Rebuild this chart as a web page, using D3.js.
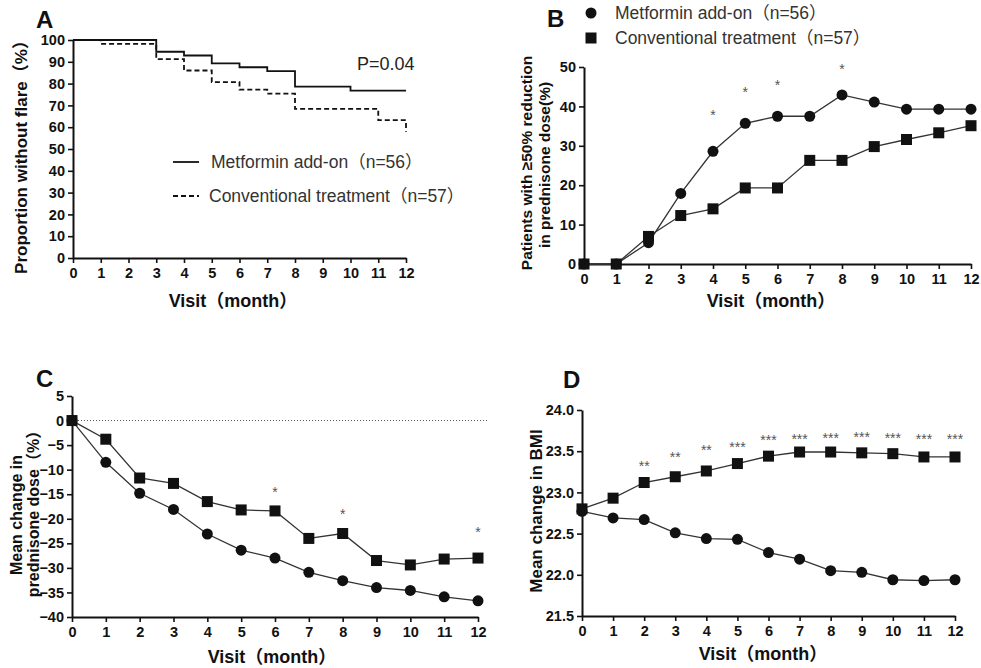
<!DOCTYPE html>
<html>
<head>
<meta charset="utf-8">
<script src="https://cdn.jsdelivr.net/npm/d3@7/dist/d3.min.js"></script>
<style>
body { margin: 0; background: #fff; }
svg text { font-family: "Liberation Sans", Arial, "Noto Sans CJK SC", sans-serif; }
</style>
</head>
<body>
<div id="viz"></div>
<script>
var months = [0, 1, 2, 3, 4, 5, 6, 7, 8, 9, 10, 11, 12];
var seriesNames = ['Metformin add-on（n=56）', 'Conventional treatment（n=57）'];

// A: Kaplan-Meier, proportion without flare (%)
var aMetTime = [0, 3, 4, 5, 6, 7, 8, 10, 12];
var aMetSurv = [100, 94.6, 92.9, 89.3, 87.5, 85.7, 78.6, 76.8, 76.8];
var aConvTime = [0, 1, 3, 4, 5, 6, 7, 8, 11, 12];
var aConvSurv = [100, 98.2, 91.2, 86.0, 80.7, 77.2, 75.4, 68.4, 63.2, 57.9];
var aTicks = [0, 10, 20, 30, 40, 50, 60, 70, 80, 90, 100];

// B: patients with >=50% reduction in prednisone dose (%)
var bMet = [0, 0, 5.4, 17.9, 28.6, 35.7, 37.5, 37.5, 42.9, 41.1, 39.3, 39.3, 39.3];
var bConv = [0, 0, 7.0, 12.3, 14.0, 19.3, 19.3, 26.3, 26.3, 29.8, 31.6, 33.3, 35.1];
var bStarX = [4, 5, 6, 8];
var bStarY = [38.5, 44.4, 46.3, 50.3];
var bStarText = ['*', '*', '*', '*'];
var bTicks = [0, 10, 20, 30, 40, 50];

// C: mean change in prednisone dose (%)
var cMet = [0, -8.5, -14.8, -18.1, -23.1, -26.4, -28.0, -30.9, -32.6, -34.0, -34.6, -35.9, -36.7];
var cConv = [0, -3.8, -11.7, -12.8, -16.5, -18.2, -18.4, -24.0, -23.0, -28.5, -29.4, -28.2, -28.0];
var cStarX = [6, 8, 12];
var cStarY = [-14.0, -18.4, -22.1];
var cStarText = ['*', '*', '*'];
var cTicks = [5, 0, -5, -10, -15, -20, -25, -30, -35, -40];

// D: mean BMI
var dMet = [22.77, 22.69, 22.67, 22.51, 22.44, 22.43, 22.27, 22.19, 22.05, 22.03, 21.94, 21.93, 21.94];
var dConv = [22.80, 22.93, 23.12, 23.19, 23.26, 23.35, 23.44, 23.49, 23.49, 23.48, 23.47, 23.43, 23.43];
var dStarX = [2, 3, 4, 5, 6, 7, 8, 9, 10, 11, 12];
var dStarY = [23.36, 23.46, 23.55, 23.59, 23.67, 23.69, 23.70, 23.71, 23.70, 23.69, 23.69];
var dStarText = ['**', '**', '**', '***', '***', '***', '***', '***', '***', '***', '***'];
var dTicks = [21.5, 22.0, 22.5, 23.0, 23.5, 24.0];

var svg = d3.select('#viz')
    .append('svg')
    .attr('width', 981)
    .attr('height', 668);

function drawAxes(g, xScale, yScale, yTicks, fmt) {
    var x0 = xScale.range()[0];
    var y0 = yScale.range()[0];

    var xAxis = g.append('g')
        .attr('transform', 'translate(0,' + y0 + ')')
        .call(d3.axisBottom(xScale).tickValues(months).tickSize(5).tickSizeOuter(0).tickPadding(5));
    var yAxis = g.append('g')
        .attr('transform', 'translate(' + x0 + ',0)')
        .call(d3.axisLeft(yScale).tickValues(yTicks).tickFormat(fmt).tickSize(5).tickSizeOuter(0).tickPadding(3));

    [xAxis, yAxis].forEach(function (ax) {
        ax.select('.domain').attr('stroke', '#111').attr('stroke-width', 2);
        ax.selectAll('.tick line').attr('stroke', '#111').attr('stroke-width', 1.6);
        ax.selectAll('.tick text')
            .attr('fill', '#111')
            .style('font-size', '14.5px')
            .style('font-weight', 'bold');
    });
}

function label(g, txt, x, y, size, weight, rotate, fill) {
    var t = g.append('text')
        .attr('text-anchor', rotate ? 'middle' : 'start')
        .attr('fill', fill || '#111')
        .style('font-size', size + 'px')
        .style('font-weight', weight)
        .text(txt);
    if (rotate) {
        t.attr('transform', 'translate(' + x + ',' + y + ') rotate(-90)');
    } else {
        t.attr('x', x).attr('y', y);
    }
    return t;
}

function drawSeries(g, xScale, yScale, values, shape) {
    var line = d3.line()
        .x(function (d, i) { return xScale(months[i]); })
        .y(function (d) { return yScale(d); });

    g.append('path')
        .datum(values)
        .attr('d', line)
        .attr('fill', 'none')
        .attr('stroke', '#333')
        .attr('stroke-width', 1.3);

    if (shape == 'circle') {
        g.selectAll(null)
            .data(values)
            .enter()
            .append('circle')
            .attr('cx', function (d, i) { return xScale(months[i]); })
            .attr('cy', function (d) { return yScale(d); })
            .attr('r', 5.5)
            .attr('fill', '#111');
    } else {
        g.selectAll(null)
            .data(values)
            .enter()
            .append('rect')
            .attr('x', function (d, i) { return xScale(months[i]) - 5.5; })
            .attr('y', function (d) { return yScale(d) - 5.5; })
            .attr('width', 11)
            .attr('height', 11)
            .attr('fill', '#111');
    }
}

function drawStars(g, xScale, yScale, xs, ys, txt) {
    g.selectAll(null)
        .data(xs)
        .enter()
        .append('text')
        .attr('x', function (d) { return xScale(d); })
        .attr('y', function (d, i) { return yScale(ys[i]) + 8; })
        .attr('text-anchor', 'middle')
        .attr('fill', '#555')
        .style('font-size', '14px')
        .text(function (d, i) { return txt[i]; });
}

// ---------- Panel A ----------
var gA = svg.append('g');
var xA = d3.scaleLinear().domain([0, 12]).range([73, 406]);
var yA = d3.scaleLinear().domain([0, 100]).range([258, 40]);

var stepLine = d3.line()
    .x(function (d) { return xA(d[0]); })
    .y(function (d) { return yA(d[1]); })
    .curve(d3.curveStepAfter);

gA.append('path')
    .datum(d3.zip(aConvTime, aConvSurv))
    .attr('d', stepLine)
    .attr('fill', 'none')
    .attr('stroke', '#111')
    .attr('stroke-width', 1.8)
    .attr('stroke-dasharray', '5,3');
gA.append('path')
    .datum(d3.zip(aMetTime, aMetSurv))
    .attr('d', stepLine)
    .attr('fill', 'none')
    .attr('stroke', '#111')
    .attr('stroke-width', 1.8);

drawAxes(gA, xA, yA, aTicks, d3.format('d'));

label(gA, 'A', 36, 28, 24, 'bold');
label(gA, 'P=0.04', 357, 70, 18, 'normal', false, '#222');
label(gA, 'Proportion without flare（%）', 27, 153, 17, 'bold', true);
label(gA, 'Visit（month）', 233, 307, 18, 'bold').attr('text-anchor', 'middle');

gA.append('line').attr('x1', 173).attr('x2', 199).attr('y1', 162).attr('y2', 162)
    .attr('stroke', '#111').attr('stroke-width', 1.8);
gA.append('line').attr('x1', 173).attr('x2', 199).attr('y1', 196).attr('y2', 196)
    .attr('stroke', '#111').attr('stroke-width', 1.8).attr('stroke-dasharray', '5,3');
label(gA, seriesNames[0], 211, 168, 17.5, 'normal', false, '#333');
label(gA, seriesNames[1], 209, 202, 17.5, 'normal', false, '#333');

// ---------- Panel B ----------
var gB = svg.append('g');
var xB = d3.scaleLinear().domain([0, 12]).range([584, 971]);
var yB = d3.scaleLinear().domain([0, 50]).range([264, 67]);

drawAxes(gB, xB, yB, bTicks, d3.format('d'));
drawSeries(gB, xB, yB, bMet, 'circle');
drawSeries(gB, xB, yB, bConv, 'square');
drawStars(gB, xB, yB, bStarX, bStarY, bStarText);

label(gB, 'B', 547, 27, 24, 'bold');
gB.append('circle').attr('cx', 591).attr('cy', 13).attr('r', 5.5).attr('fill', '#111');
gB.append('rect').attr('x', 585.5).attr('y', 32.5).attr('width', 11).attr('height', 11).attr('fill', '#111');
label(gB, seriesNames[0], 615, 19, 17.5, 'normal', false, '#333');
label(gB, seriesNames[1], 615, 44, 17.5, 'normal', false, '#333');
label(gB, 'Patients with ≥50% reduction', 532, 163, 15.5, 'bold', true);
label(gB, 'in prednisone dose(%)', 550, 165, 15.5, 'bold', true);
label(gB, 'Visit（month）', 771, 307, 18, 'bold').attr('text-anchor', 'middle');

// ---------- Panel C ----------
var gC = svg.append('g');
var xC = d3.scaleLinear().domain([0, 12]).range([72, 478]);
var yC = d3.scaleLinear().domain([-40, 5]).range([617, 396]);

gC.append('line')
    .attr('x1', xC(0)).attr('x2', xC(12.3))
    .attr('y1', yC(0)).attr('y2', yC(0))
    .attr('stroke', '#555')
    .attr('stroke-width', 1)
    .attr('stroke-dasharray', '1,2');

drawAxes(gC, xC, yC, cTicks, d3.format('d'));
drawSeries(gC, xC, yC, cMet, 'circle');
drawSeries(gC, xC, yC, cConv, 'square');
drawStars(gC, xC, yC, cStarX, cStarY, cStarText);

label(gC, 'C', 36, 387, 24, 'bold');
label(gC, 'Mean change in', 22, 515, 16, 'bold', true);
label(gC, 'prednisone dose（%）', 39, 510, 16, 'bold', true);
label(gC, 'Visit（month）', 272, 663, 18, 'bold').attr('text-anchor', 'middle');

// ---------- Panel D ----------
var gD = svg.append('g');
var xD = d3.scaleLinear().domain([0, 12]).range([582, 955]);
var yD = d3.scaleLinear().domain([21.5, 24]).range([616, 410]);

drawAxes(gD, xD, yD, dTicks, d3.format('.1f'));
drawSeries(gD, xD, yD, dMet, 'circle');
drawSeries(gD, xD, yD, dConv, 'square');
drawStars(gD, xD, yD, dStarX, dStarY, dStarText);

label(gD, 'D', 563, 388, 24, 'bold');
label(gD, 'Mean change in BMI', 542, 511, 17, 'bold', true);
label(gD, 'Visit（month）', 763, 660, 18, 'bold').attr('text-anchor', 'middle');
</script>
</body>
</html>
